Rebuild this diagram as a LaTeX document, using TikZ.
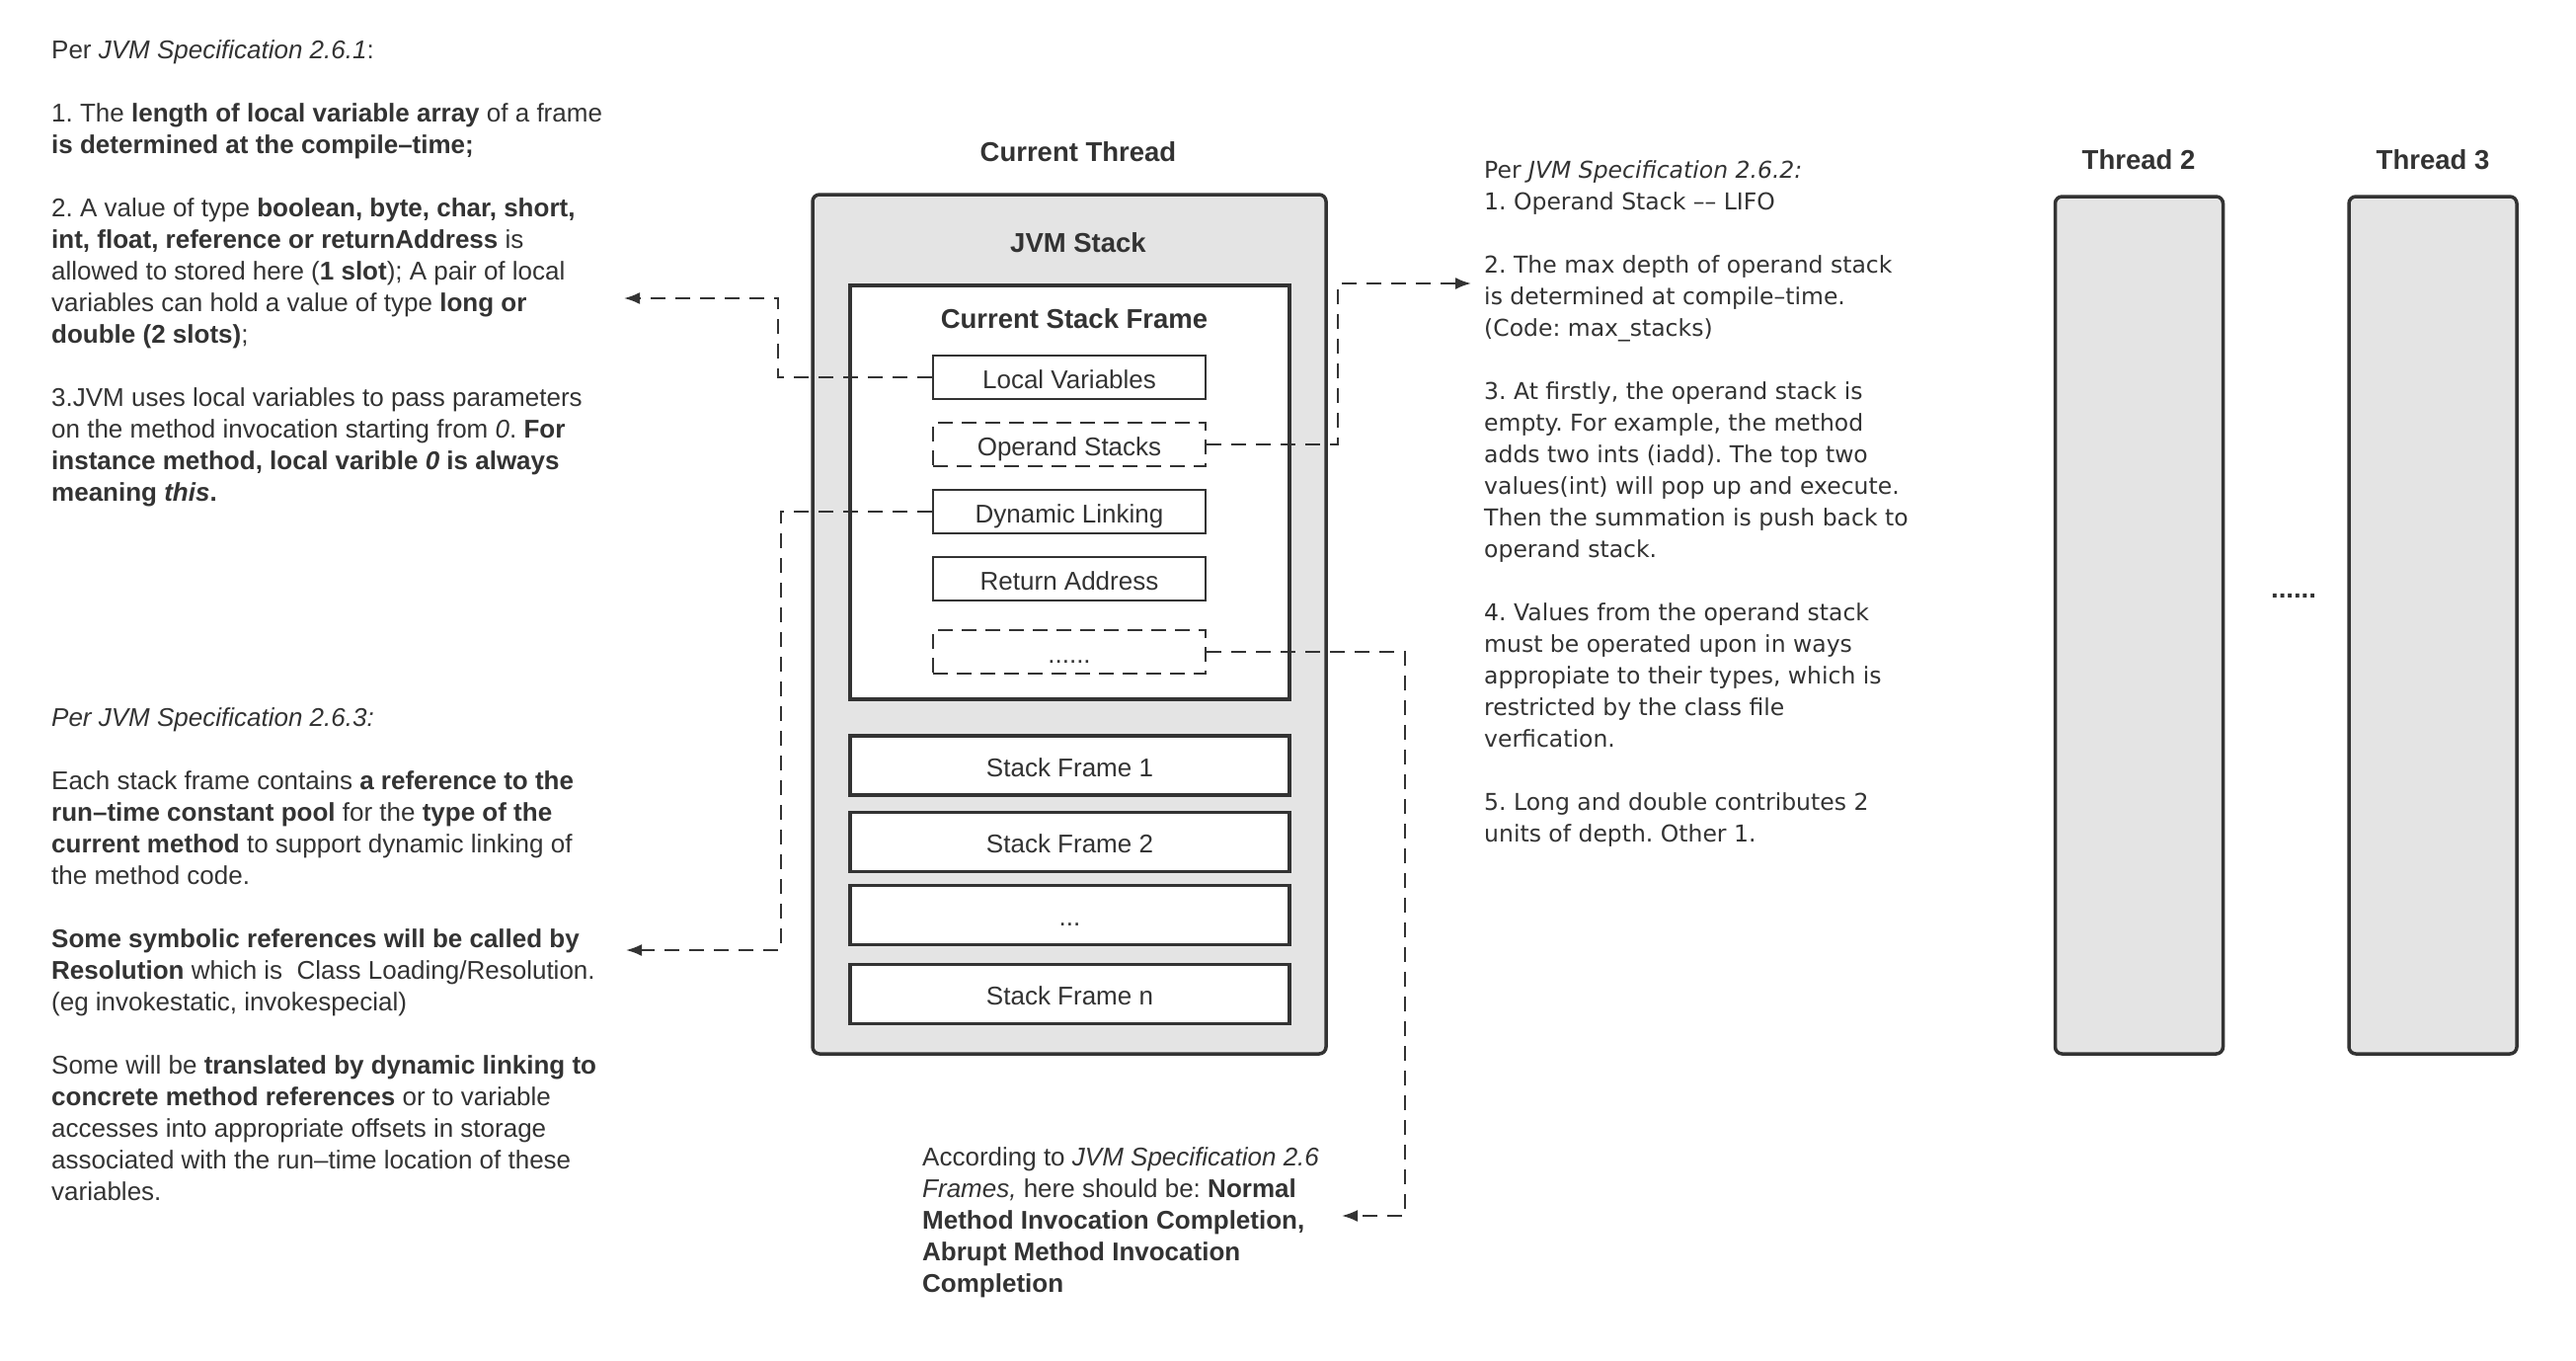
\documentclass[tikz,border=0pt]{standalone}
\usepackage{fontspec}
\setmainfont{Liberation Sans}
\newfontfamily\specfont[Ligatures=TeX]{DejaVu Sans}
\usetikzlibrary{arrows.meta}
\definecolor{ink}{HTML}{333333}
\definecolor{panel}{HTML}{E4E4E4}
\frenchspacing

\begin{document}
\begin{tikzpicture}[x=1pt,y=-1pt,
            every node/.style={text=ink},
            panelbox/.style={draw=ink,line width=3.5pt,fill=panel,rounded corners=7pt,inner sep=0pt},
            framebox/.style={draw=ink,line width=3.5pt,fill=white,inner sep=0pt,minimum width=445pt,
                text height=23pt,text depth=1pt,font=\fontsize{26}{32}\selectfont},
            itembox/.style={draw=ink,line width=2pt,fill=white,inner sep=0pt,minimum width=276pt,minimum height=44pt,
                text height=23pt,text depth=1pt,font=\fontsize{26}{32}\selectfont},
            dashbox/.style={itembox,dash pattern=on 15pt off 9pt},
            title/.style={font=\fontsize{27.5}{32}\selectfont\bfseries},
            note/.style={anchor=north west,align=left,inner sep=0pt,font=\fontsize{26}{32}\selectfont},
            link/.style={draw=ink,line width=2pt,dash pattern=on 15pt off 10pt,-{Latex[length=16pt,width=12pt]}}]
            \useasboundingbox (0,0) rectangle (2609,1378);
            % current thread
            \node[title] (cur) at (1092,154) {Current Thread};
            \node[panelbox,minimum width=520pt,minimum height=870pt] (jvm) at (1083,632) {};
            \node[title] (jvmt) at (1092,246) {JVM Stack};
            \node[framebox,minimum height=419pt] (csf) at (1083.5,498.5) {};
            \node[title] (csft) at (1088,323) {Current Stack Frame};
            \node[itembox] (lv) at (1083,382) {Local Variables};
            \node[dashbox] (os) at (1083,450) {Operand Stacks};
            \node[itembox] (dl) at (1083,518) {Dynamic Linking};
            \node[itembox] (ra) at (1083,586) {Return Address};
            \node[dashbox] (more) at (1083,660) {......};
            \node[framebox,minimum height=60pt] (sf1) at (1083.5,775) {Stack Frame 1};
            \node[framebox,minimum height=60pt] (sf2) at (1083.5,852.5) {Stack Frame 2};
            \node[framebox,minimum height=60pt] (sfdots) at (1083.5,926.5) {...};
            \node[framebox,minimum height=60pt] (sfn) at (1083.5,1006.5) {Stack Frame n};
            % other threads
            \node[title] (t2t) at (2166,162) {Thread 2};
            \node[panelbox,minimum width=170pt,minimum height=868pt] (t2) at (2166.5,633) {};
            \node[title] (t3t) at (2464,162) {Thread 3};
            \node[panelbox,minimum width=170pt,minimum height=868pt] (t3) at (2464,633) {};
            \node[title] (gap) at (2323,603) {......};
            % notes
            \node[note] (spec1) at (52,40) {Per \textit{JVM Specification 2.6.1}:\\[32pt]
                1. The \textbf{length of local variable array} of a frame\\
                \textbf{is determined at the compile--time;}\\[32pt]
                2. A value of type \textbf{boolean, byte, char, short,}\\
                \textbf{int, float, reference or returnAddress} is\\
                allowed to stored here (\textbf{1 slot}); A pair of local\\
                variables can hold a value of type \textbf{long or}\\
                \textbf{double (2 slots)};\\[32pt]
                3.JVM uses local variables to pass parameters\\
                on the method invocation starting from \textit{0}. \textbf{For}\\
                \textbf{instance method, local varible \textit{0} is always}\\
                \textbf{meaning \textit{this}.}};
            \node[note] (spec3) at (52,716) {\textit{Per JVM Specification 2.6.3:}\\[32pt]
                Each stack frame contains \textbf{a reference to the}\\
                \textbf{run--time constant pool} for the \textbf{type of the}\\
                \textbf{current method} to support dynamic linking of\\
                the method code.\\[32pt]
                \textbf{Some symbolic references will be called by}\\
                \textbf{Resolution} which is \ Class Loading/Resolution.\\
                (eg invokestatic, invokespecial)\\[32pt]
                Some will be \textbf{translated by dynamic linking to}\\
                \textbf{concrete method references} or to variable\\
                accesses into appropriate offsets in storage\\
                associated with the run--time location of these\\
                variables.};
            \node[note,font=\specfont\fontsize{23.5}{32}\selectfont] (spec2) at (1503,162) {Per \textit{JVM Specification 2.6.2:}\\
                1. Operand Stack \textendash\textendash{} LIFO\\[32pt]
                2. The max depth of operand stack\\
                is determined at compile\textendash time.\\
                (Code: max\_stacks)\\[32pt]
                3. At firstly, the operand stack is\\
                empty. For example, the method\\
                adds two ints (iadd). The top two\\
                values(int) will pop up and execute.\\
                Then the summation is push back to\\
                operand stack.\\[32pt]
                4. Values from the operand stack\\
                must be operated upon in ways\\
                appropiate to their types, which is\\
                restricted by the class file\\
                verfication.\\[32pt]
                5. Long and double contributes 2\\
                units of depth. Other 1.};
            \node[note] (spec26) at (934,1161) {According to \textit{JVM Specification 2.6}\\
                \textit{Frames,} here should be: \textbf{Normal}\\
                \textbf{Method Invocation Completion,}\\
                \textbf{Abrupt Method Invocation}\\
                \textbf{Completion}};
            % links
            \coordinate (a1) at (632,302);
            \coordinate (a2) at (1490,287);
            \coordinate (a3) at (634,962);
            \coordinate (a4) at (1359,1231);
            \draw[link] (lv.west) -- ++(-156,0) |- (a1);
            \draw[link] (os.east) -- ++(133,0) |- (a2);
            \draw[link] (dl.west) -- ++(-153,0) |- (a3);
            \draw[link] (more.east) -- ++(201,0) |- (a4);
        \end{tikzpicture}
\end{document}
